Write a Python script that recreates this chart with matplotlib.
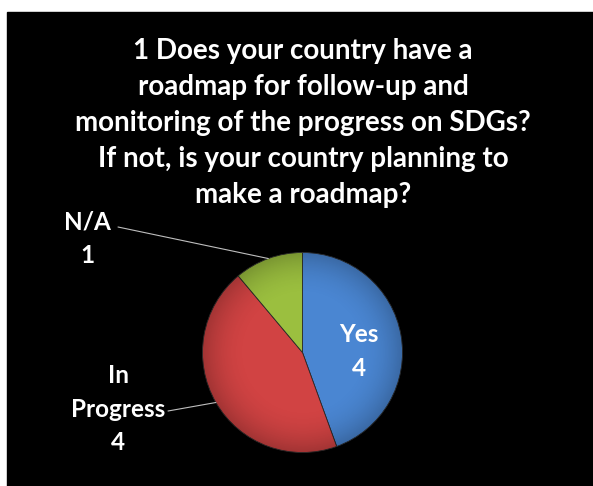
import matplotlib

matplotlib.use("Agg")
import matplotlib.pyplot as plt
import numpy as np
from matplotlib.patches import Rectangle

TITLE = ("1 Does your country have a\n"
         "roadmap for follow-up and\n"
         "monitoring of the progress on SDGs?\n"
         "If not, is your country planning to\n"
         "make a roadmap?")
CATEGORIES = ["Yes", "In\nProgress", "N/A"]
VALUES = [4, 4, 1]
COLORS = ["#4a86d2", "#d14343", "#9bbf3f"]

W, H = 593, 486
FONT = "Lato"

fig = plt.figure(figsize=(W / 100, H / 100), dpi=100, facecolor="white")
# black slide area with thin white margin at top / left
fig.patches.append(Rectangle((7 / W, 0), 1 - 7 / W, (H - 12) / H,
                             transform=fig.transFigure, color="black", zorder=-5))

fig.text(303 / W, 1 - 123 / H, TITLE, ha="center", va="center", color="white",
         fontsize=20, fontweight="bold", family=FONT, linespacing=1.47)

# pie placed by pixel centre / radius
cx, cy, r = 302.5, 352.5, 100
ax = fig.add_axes([(cx - r) / W, (H - cy - r) / H, 2 * r / W, 2 * r / H])
ax.patch.set_visible(False)
wedges, _ = ax.pie(VALUES, colors=COLORS, startangle=90, counterclock=False,
                   radius=1.0, wedgeprops=dict(edgecolor="#2a2a2a", linewidth=0.6))
ax.set_xlim(-1, 1)
ax.set_ylim(-1, 1)
ax.axis("off")

# soft shading towards the rim
yy, xx = np.mgrid[-1:1:300j, -1:1:300j]
rr = np.sqrt(xx ** 2 + yy ** 2)
shade = np.zeros((300, 300, 4))
shade[..., 3] = np.clip((rr - 0.55) / 0.45, 0, 1) ** 2 * 0.22
im = ax.imshow(shade, extent=(-1, 1, -1, 1), zorder=3)
circ = plt.Circle((0, 0), 1.0, transform=ax.transData)
im.set_clip_path(circ)

label_kw = dict(color="white", fontsize=17.5, fontweight="bold", family=FONT,
                ha="center", va="center", linespacing=1.55)

# Yes label inside the slice
ax.text(0.565, 0.01, f"{CATEGORIES[0]}\n{VALUES[0]}", **label_kw)

# outside labels with leader lines
outside = {1: (118, 409), 2: (87, 239)}
line_start = {1: (168, 411), 2: (118, 227)}
for i, (tx, ty) in outside.items():
    w = wedges[i]
    mid = np.deg2rad((w.theta1 + w.theta2) / 2)
    xy = (np.cos(mid), np.sin(mid))
    fig.text(tx / W, 1 - ty / H, f"{CATEGORIES[i]}\n{VALUES[i]}", **label_kw)
    sx, sy = line_start[i]
    ax.annotate("", xy=xy, xycoords="data", xytext=(sx, H - sy),
                textcoords="figure pixels",
                arrowprops=dict(arrowstyle="-", color="#bfbfbf", lw=0.8,
                                shrinkA=0, shrinkB=0))

fig.savefig("out.png", dpi=100, facecolor="white")
